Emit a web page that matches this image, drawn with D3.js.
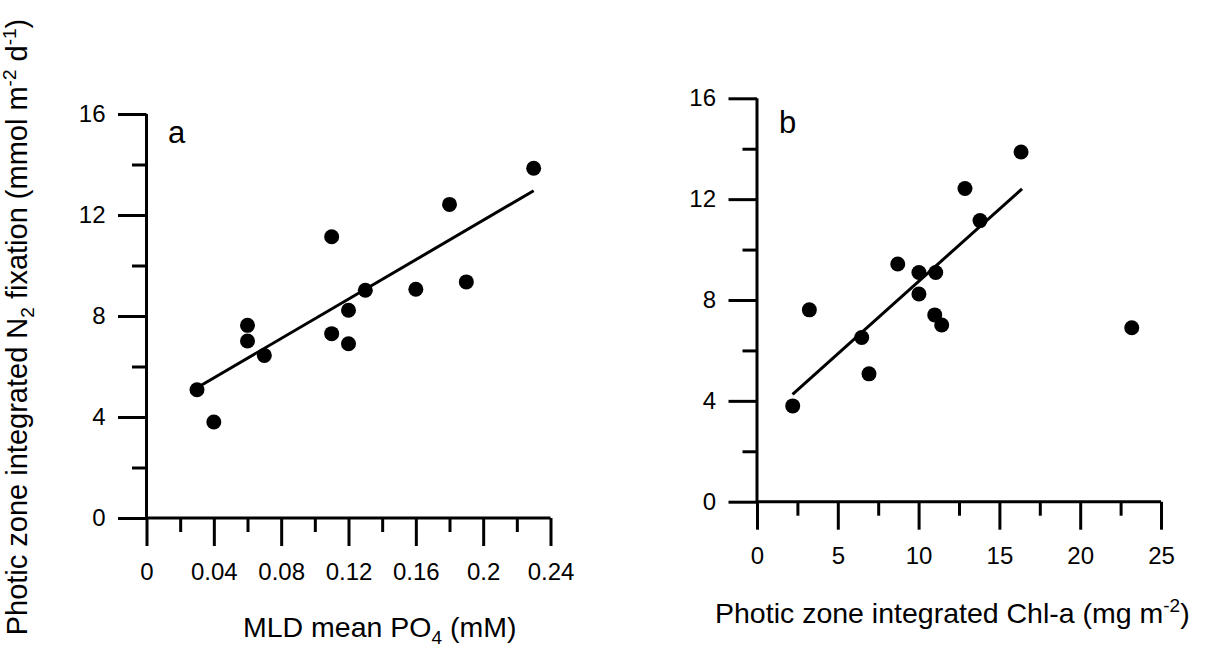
<!DOCTYPE html>
<html>
<head>
<meta charset="utf-8">
<script src="https://cdn.jsdelivr.net/npm/d3@7"></script>
<style>
  body { margin: 0; background: #fff; }
  svg { display: block; font-family: "Liberation Sans", Arial, sans-serif; }
</style>
</head>
<body>
<svg id="chart" width="1227" height="653"></svg>
<script>
// panel a: MLD mean PO4 vs N2 fixation
var po4 = [0.03, 0.04, 0.06, 0.06, 0.07, 0.11, 0.11, 0.12, 0.12, 0.13, 0.16, 0.18, 0.19, 0.23];
var fixA = [5.08, 3.80, 7.63, 7.01, 6.44, 11.14, 7.30, 8.23, 6.90, 9.02, 9.06, 12.42, 9.35, 13.85];
var fitA = [[0.03, 5.16], [0.23, 12.96]];

// panel b: Chl-a vs N2 fixation
var chl = [2.21, 3.24, 6.48, 6.93, 8.71, 10.02, 10.02, 11.06, 11.0, 11.43, 12.87, 13.8, 16.34, 23.19];
var fixB = [3.80, 7.61, 6.51, 5.07, 9.43, 9.09, 8.24, 9.09, 7.41, 7.01, 12.42, 11.15, 13.87, 6.90];
var fitB = [[2.2, 4.26], [16.4, 12.41]];

// ticks
var xMajorA = [0, 0.04, 0.08, 0.12, 0.16, 0.2, 0.24];
var xLabelsA = ["0", "0.04", "0.08", "0.12", "0.16", "0.2", "0.24"];
var xMinorA = [0.02, 0.06, 0.1, 0.14, 0.18, 0.22];
var xMajorB = [0, 5, 10, 15, 20, 25];
var xMinorB = [2.5, 7.5, 12.5, 17.5, 22.5];
var yMajor = [0, 4, 8, 12, 16];
var yMinor = [2, 6, 10, 14];

var svg = d3.select("#chart");

function drawPanel(opt) {
    var x = d3.scaleLinear().domain(opt.xDomain).range(opt.xRange);
    var y = d3.scaleLinear().domain([0, 16]).range(opt.yRange);
    var g = svg.append("g");

    // major and minor x ticks
    g.append("g")
        .attr("transform", "translate(0," + opt.yRange[0] + ")")
        .call(d3.axisBottom(x).tickValues(opt.xMajor)
            .tickFormat(function (d, i) { return opt.xLabels[i]; })
            .tickSize(28).tickSizeOuter(0).tickPadding(17));
    g.append("g")
        .attr("transform", "translate(0," + opt.yRange[0] + ")")
        .call(d3.axisBottom(x).tickValues(opt.xMinor).tickFormat("").tickSize(14).tickSizeOuter(0));

    g.append("g")
        .attr("transform", "translate(" + opt.xRange[0] + ",0)")
        .call(d3.axisLeft(y).tickValues(yMajor).tickSize(28.5).tickSizeOuter(0).tickPadding(12.5));
    g.append("g")
        .attr("transform", "translate(" + opt.xRange[0] + ",0)")
        .call(d3.axisLeft(y).tickValues(yMinor).tickFormat("").tickSize(14.5).tickSizeOuter(0));

    g.selectAll(".domain").remove();
    g.selectAll(".tick line").attr("stroke", "#000").attr("stroke-width", 3);
    g.selectAll(".tick text").attr("fill", "#000").style("font-size", "24px")
        .style("font-family", "'Liberation Sans', Arial, sans-serif");

    // axis lines
    g.append("line")
        .attr("x1", x(opt.xDomain[0])).attr("x2", x(opt.xDomain[1]))
        .attr("y1", y(0)).attr("y2", y(0))
        .attr("stroke", "#000").attr("stroke-width", 3);
    g.append("line")
        .attr("x1", x(0)).attr("x2", x(0))
        .attr("y1", y(0)).attr("y2", y(16))
        .attr("stroke", "#000").attr("stroke-width", 3);

    // regression line
    g.append("path")
        .datum(opt.fit)
        .attr("d", d3.line().x(function (d) { return x(d[0]); }).y(function (d) { return y(d[1]); }))
        .attr("fill", "none")
        .attr("stroke", "#000")
        .attr("stroke-width", 3);

    // points
    g.selectAll("circle.pt")
        .data(opt.xs)
        .enter().append("circle")
        .attr("class", "pt")
        .attr("cx", function (d) { return x(d); })
        .attr("cy", function (d, i) { return y(opt.ys[i]); })
        .attr("r", 7.5)
        .attr("fill", "#000");

    // panel letter
    g.append("text")
        .attr("x", opt.letterPos[0]).attr("y", opt.letterPos[1])
        .style("font-size", "31px")
        .text(opt.letter);
}

drawPanel({
    xDomain: [0, 0.24], xRange: [146.5, 550.5], yRange: [518, 114],
    xMajor: xMajorA, xLabels: xLabelsA, xMinor: xMinorA,
    xs: po4, ys: fixA, fit: fitA,
    letter: "a", letterPos: [168, 143]
});

drawPanel({
    xDomain: [0, 25], xRange: [757, 1161], yRange: [501.7, 98.3],
    xMajor: xMajorB, xLabels: xMajorB.map(String), xMinor: xMinorB,
    xs: chl, ys: fixB, fit: fitB,
    letter: "b", letterPos: [779, 133]
});

// y axis title
var yTitle = svg.append("text")
    .attr("transform", "translate(27,327) rotate(-90)")
    .attr("text-anchor", "middle")
    .style("font-size", "29px");
yTitle.append("tspan").text("Photic zone integrated N");
yTitle.append("tspan").attr("dy", 7).style("font-size", "19px").text("2");
yTitle.append("tspan").attr("dy", -7).text(" fixation (mmol m");
yTitle.append("tspan").attr("dy", -11).style("font-size", "19px").text("-2");
yTitle.append("tspan").attr("dy", 11).text(" d");
yTitle.append("tspan").attr("dy", -11).style("font-size", "19px").text("-1");
yTitle.append("tspan").attr("dy", 11).text(")");

// x axis titles
var xTitleA = svg.append("text")
    .attr("x", 243).attr("y", 637)
    .style("font-size", "28.5px");
xTitleA.append("tspan").text("MLD mean PO");
xTitleA.append("tspan").attr("dy", 7).style("font-size", "19px").text("4");
xTitleA.append("tspan").attr("dy", -7).text(" (mM)");

var xTitleB = svg.append("text")
    .attr("x", 715).attr("y", 623)
    .style("font-size", "28.5px");
xTitleB.append("tspan").text("Photic zone integrated Chl-a (mg m");
xTitleB.append("tspan").attr("dy", -11).style("font-size", "19px").text("-2");
xTitleB.append("tspan").attr("dy", 11).text(")");
</script>
</body>
</html>
